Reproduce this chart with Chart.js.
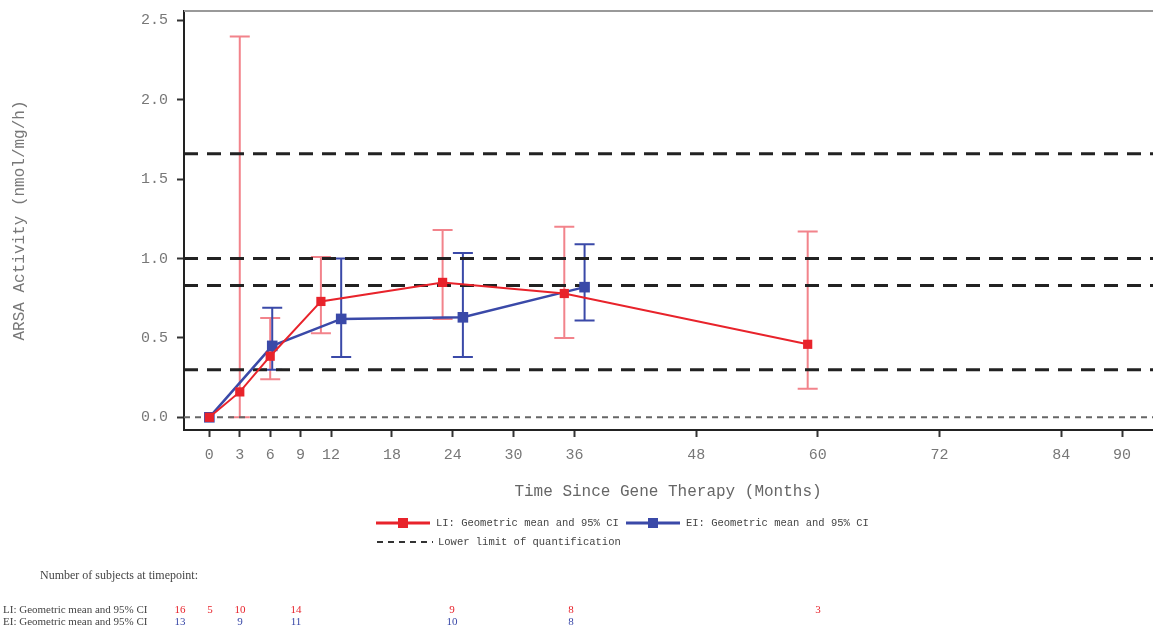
<!DOCTYPE html>
<html>
<head>
<meta charset="utf-8">
<script src="https://cdn.jsdelivr.net/npm/chart.js@4.4.0/dist/chart.umd.min.js"></script>
<style>
    html, body { margin: 0; padding: 0; background: #fff; }
    canvas { display: block; }
</style>
</head>
<body>
<canvas id="arsaChart" width="1153" height="632"></canvas>
<script>
// Axis ticks
const xTicks = [0, 3, 6, 9, 12, 18, 24, 30, 36, 48, 60, 72, 84, 90];
const yTicks = [0, 0.5, 1.0, 1.5, 2.0, 2.5];

// LI cohort: geometric mean and 95% CI
const liMonths = [0, 3, 6, 11, 23, 35, 59];
const liMean = [0.0, 0.16, 0.385, 0.73, 0.85, 0.78, 0.46];
const liLow = [0.0, 0.0, 0.24, 0.53, 0.62, 0.50, 0.18];
const liHigh = [0.0, 2.40, 0.625, 1.01, 1.18, 1.20, 1.17];

// EI cohort: geometric mean and 95% CI
const eiMonths = [0, 6.2, 13, 25, 37];
const eiMean = [0.0, 0.45, 0.62, 0.63, 0.82];
const eiLow = [0.0, 0.30, 0.38, 0.38, 0.61];
const eiHigh = [0.0, 0.69, 1.00, 1.035, 1.09];

// Reference lines (dashed) and the zero line (dotted)
const refLevels = [1.66, 1.0, 0.83, 0.30];
const zeroLevel = 0;

// Number of subjects at timepoint
const countLabels = ['LI: Geometric mean and 95% CI', 'EI: Geometric mean and 95% CI'];
const liCounts = [16, 5, 10, 14, 9, 8, 3];
const eiCounts = [13, null, 9, 11, 10, 8, null];

const X_MIN = -2.5;
const X_MAX = 93.05;
const Y_MIN = -0.08;
const Y_MAX = 2.56;

const RED = '#e8232b';
const RED_ERR = 'rgba(238, 90, 100, 0.75)';
const BLUE = '#3a49a8';
const MONO = '"Liberation Mono", "Courier New", monospace';
const SERIF = '"Liberation Serif", "Times New Roman", serif';

// table column positions (pixels)
const countColX = [180, 210, 240, 296, 452, 571, 818];

const toPoints = (xs, ys) => xs.map((x, i) => ({ x: x, y: ys[i] }));

function refLine(v, dash, width, color) {
    return {
        label: 'ref',
        data: [{ x: X_MIN, y: v }, { x: X_MAX, y: v }],
        borderColor: color,
        borderWidth: width,
        borderDash: dash,
        pointRadius: 0,
        order: 5,
    };
}

// Error bars drawn under the lines
const errorBars = {
    id: 'errorBars',
    beforeDatasetsDraw(chart) {
        const { ctx } = chart;
        const x = chart.scales.x;
        const y = chart.scales.y;
        chart.data.datasets.forEach((ds) => {
            if (!ds.errLow) return;
            ctx.save();
            ctx.strokeStyle = ds.errColor;
            ctx.lineWidth = 2;
            ds.data.forEach((p, j) => {
                const lo = ds.errLow[j];
                const hi = ds.errHigh[j];
                if (lo === hi) return;
                const px = x.getPixelForValue(p.x);
                const y1 = y.getPixelForValue(lo);
                const y2 = y.getPixelForValue(hi);
                ctx.beginPath();
                ctx.moveTo(px, y1);
                ctx.lineTo(px, y2);
                ctx.moveTo(px - 10, y1);
                ctx.lineTo(px + 10, y1);
                ctx.moveTo(px - 10, y2);
                ctx.lineTo(px + 10, y2);
                ctx.stroke();
            });
            ctx.restore();
        });
    },
};

// Frame top line, x title, legend and subject counts
const extras = {
    id: 'extras',
    afterDraw(chart) {
        const { ctx, chartArea } = chart;
        ctx.save();

        // top frame line
        ctx.strokeStyle = '#999';
        ctx.lineWidth = 2;
        ctx.beginPath();
        ctx.moveTo(chartArea.left, chartArea.top);
        ctx.lineTo(chartArea.right, chartArea.top);
        ctx.stroke();

        // x axis title
        ctx.fillStyle = '#666';
        ctx.font = '16px ' + MONO;
        ctx.textAlign = 'center';
        ctx.textBaseline = 'middle';
        ctx.fillText('Time Since Gene Therapy (Months)', 668, 492);

        // legend
        const li = chart.data.datasets[0];
        const ei = chart.data.datasets[1];
        ctx.textAlign = 'left';
        ctx.font = '10.5px ' + MONO;
        [[li, 376, 523], [ei, 626, 523]].forEach(([ds, lx, ly]) => {
            ctx.strokeStyle = ds.borderColor;
            ctx.lineWidth = 3;
            ctx.beginPath();
            ctx.moveTo(lx, ly);
            ctx.lineTo(lx + 54, ly);
            ctx.stroke();
            ctx.fillStyle = ds.borderColor;
            ctx.fillRect(lx + 22, ly - 5, 10, 10);
            ctx.fillStyle = '#444';
            ctx.fillText(ds.label, lx + 60, ly);
        });
        ctx.strokeStyle = '#333';
        ctx.lineWidth = 2;
        ctx.setLineDash([6, 5]);
        ctx.beginPath();
        ctx.moveTo(377, 542);
        ctx.lineTo(433, 542);
        ctx.stroke();
        ctx.setLineDash([]);
        ctx.fillStyle = '#444';
        ctx.fillText('Lower limit of quantification', 438, 542);

        // subjects table
        ctx.font = '12px ' + SERIF;
        ctx.fillStyle = '#444';
        ctx.fillText('Number of subjects at timepoint:', 40, 576);
        ctx.font = '11px ' + SERIF;
        ctx.fillText(countLabels[0], 3, 610);
        ctx.fillText(countLabels[1], 3, 622);
        ctx.textAlign = 'center';
        liCounts.forEach((n, i) => {
            if (n === null) return;
            ctx.fillStyle = RED;
            ctx.fillText(String(n), countColX[i], 610);
        });
        eiCounts.forEach((n, i) => {
            if (n === null) return;
            ctx.fillStyle = BLUE;
            ctx.fillText(String(n), countColX[i], 622);
        });
        ctx.restore();
    },
};

const datasets = [
    {
        label: 'LI: Geometric mean and 95% CI',
        data: toPoints(liMonths, liMean),
        errLow: liLow,
        errHigh: liHigh,
        errColor: RED_ERR,
        borderColor: RED,
        backgroundColor: RED,
        borderWidth: 2,
        pointStyle: 'rect',
        pointRadius: 6.5,
        pointBorderWidth: 0,
        order: 1,
    },
    {
        label: 'EI: Geometric mean and 95% CI',
        data: toPoints(eiMonths, eiMean),
        errLow: eiLow,
        errHigh: eiHigh,
        errColor: BLUE,
        borderColor: BLUE,
        backgroundColor: BLUE,
        borderWidth: 2.5,
        pointStyle: 'rect',
        pointRadius: 7.5,
        pointBorderWidth: 0,
        order: 2,
    },
    ...refLevels.map((v) => refLine(v, [14, 9], 3, '#222')),
    refLine(zeroLevel, [6, 5], 2, '#666'),
];

new Chart(document.getElementById('arsaChart'), {
    type: 'line',
    data: { datasets: datasets },
    plugins: [errorBars, extras],
    options: {
        responsive: false,
        animation: false,
        layout: {
            autoPadding: false,
            padding: { top: 11, left: 0, right: 0, bottom: 0 },
        },
        plugins: {
            legend: { display: false },
            tooltip: { enabled: false },
        },
        scales: {
            x: {
                type: 'linear',
                min: X_MIN,
                max: X_MAX,
                afterBuildTicks: (s) => { s.ticks = xTicks.map((v) => ({ value: v })); },
                afterFit: (s) => {
                    s.height = 202;
                    s.paddingLeft = 0;
                    s.paddingRight = 0;
                },
                grid: { drawOnChartArea: false, tickLength: 7, tickColor: '#333', tickWidth: 2 },
                border: { color: '#222', width: 2 },
                ticks: {
                    autoSkip: false,
                    maxRotation: 0,
                    padding: 9,
                    color: '#777',
                    font: { family: MONO, size: 15 },
                    callback: (v) => String(v),
                },
            },
            y: {
                min: Y_MIN,
                max: Y_MAX,
                afterBuildTicks: (s) => { s.ticks = yTicks.map((v) => ({ value: v })); },
                afterFit: (s) => {
                    s.width = 184;
                    s.paddingTop = 0;
                    s.paddingBottom = 0;
                },
                grid: { drawOnChartArea: false, tickLength: 7, tickColor: '#333', tickWidth: 2 },
                border: { color: '#222', width: 2 },
                ticks: {
                    padding: 9,
                    color: '#777',
                    font: { family: MONO, size: 15 },
                    callback: (v) => v.toFixed(1),
                },
                title: {
                    display: true,
                    text: 'ARSA Activity (nmol/mg/h)',
                    color: '#777',
                    font: { family: MONO, size: 16 },
                    padding: { top: 10, bottom: 0 },
                },
            },
        },
    },
});
</script>
</body>
</html>
